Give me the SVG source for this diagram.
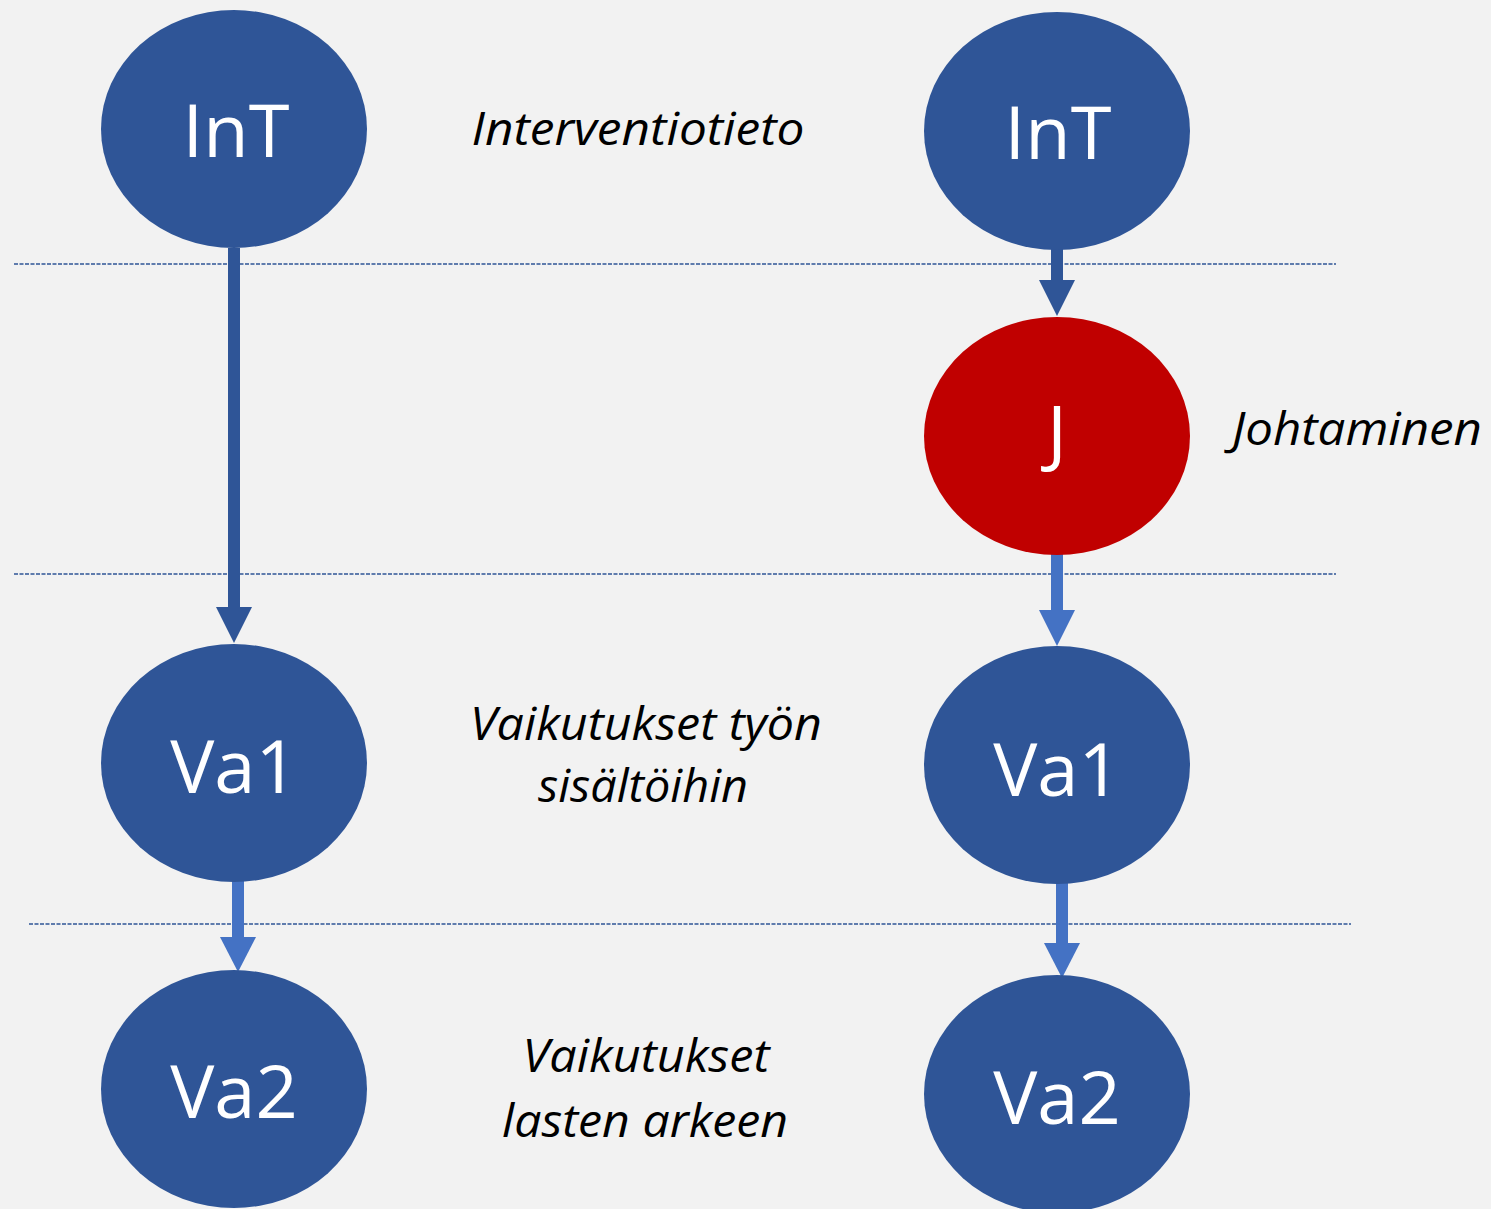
<svg xmlns="http://www.w3.org/2000/svg" width="1491" height="1209" viewBox="0 0 1491 1209">
<style>
.dark{fill:#2F5597}
.red{fill:#C00000}
.lbl{font-family:"Open Sans","Liberation Sans",sans-serif;font-size:74px;fill:#FFFFFF;text-anchor:middle}
.cap{font-family:"Open Sans","Liberation Sans",sans-serif;font-style:italic;font-size:46px;fill:#000000;text-anchor:middle}
.sep{stroke:#2F5597;stroke-width:1.3;stroke-dasharray:4 1.5;fill:none}
.shaftD{stroke:#2F5597;stroke-width:12;fill:none}
.shaftL{stroke:#4472C4;stroke-width:12;fill:none}
</style>
<rect x="0" y="0" width="1491" height="1209" fill="#F2F2F2"/>
<g id="separators">
<line class="sep" x1="14" y1="264" x2="1336" y2="264"/>
<line class="sep" x1="14" y1="574" x2="1336" y2="574"/>
<line class="sep" x1="29" y1="924" x2="1351" y2="924"/>
</g>
<g id="captions">
<text class="cap" x="638" y="145" textLength="333" lengthAdjust="spacingAndGlyphs">Interventiotieto</text>
<text class="cap" x="1357" y="445" textLength="250" lengthAdjust="spacingAndGlyphs">Johtaminen</text>
<text class="cap" x="646" y="740" textLength="352" lengthAdjust="spacingAndGlyphs">Vaikutukset työn</text>
<text class="cap" x="643" y="802" textLength="210" lengthAdjust="spacingAndGlyphs">sisältöihin</text>
<text class="cap" x="646" y="1072" textLength="247" lengthAdjust="spacingAndGlyphs">Vaikutukset</text>
<text class="cap" x="645" y="1137" textLength="286" lengthAdjust="spacingAndGlyphs">lasten arkeen</text>
</g>
<g id="connectors">
<line class="shaftD" x1="234" y1="248" x2="234" y2="608"/>
<polygon class="dark" points="216,607 252,607 234,643"/>
<line class="shaftD" x1="1057" y1="248" x2="1057" y2="281"/>
<polygon class="dark" points="1039,280 1075,280 1057,316"/>
<line class="shaftL" x1="1057" y1="553" x2="1057" y2="611"/>
<polygon fill="#4472C4" points="1039,610 1075,610 1057,646"/>
<line class="shaftL" x1="238" y1="875" x2="238" y2="938"/>
<polygon fill="#4472C4" points="220,937 256,937 238,972"/>
<line class="shaftL" x1="1062" y1="880" x2="1062" y2="944"/>
<polygon fill="#4472C4" points="1044,943 1080,943 1062,978"/>
</g>
<g id="node-int-left">
<ellipse class="dark" cx="234" cy="129" rx="133" ry="119"/>
<text class="lbl" x="236" y="157">InT</text>
</g>
<g id="node-int-right">
<ellipse class="dark" cx="1057" cy="131" rx="133" ry="119"/>
<text class="lbl" x="1058" y="159">InT</text>
</g>
<g id="node-j">
<ellipse class="red" cx="1057" cy="436" rx="133" ry="119"/>
<text class="lbl" x="1057" y="458">J</text>
</g>
<g id="node-va1-left">
<ellipse class="dark" cx="234" cy="763" rx="133" ry="119"/>
<text class="lbl" x="234" y="793">Va1</text>
</g>
<g id="node-va1-right">
<ellipse class="dark" cx="1057" cy="765" rx="133" ry="119"/>
<text class="lbl" x="1057" y="796">Va1</text>
</g>
<g id="node-va2-left">
<ellipse class="dark" cx="234" cy="1089" rx="133" ry="119"/>
<text class="lbl" x="234" y="1118">Va2</text>
</g>
<g id="node-va2-right">
<ellipse class="dark" cx="1057" cy="1094" rx="133" ry="119"/>
<text class="lbl" x="1057" y="1124">Va2</text>
</g>
</svg>
